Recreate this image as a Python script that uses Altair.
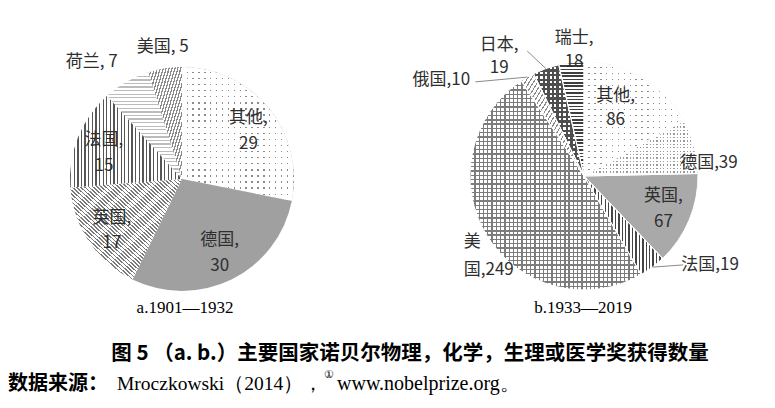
import math
import altair as alt
import pandas as pd

# ---------------- data ----------------
cats_a = ["其他", "德国", "英国", "法国", "荷兰", "美国"]
vals_a = [29, 30, 17, 15, 7, 5]
cats_b = ["其他", "德国", "英国", "法国", "美国", "俄国", "日本", "瑞士"]
vals_b = [86, 39, 67, 19, 249, 10, 19, 18]

caption_a = "a.1901—1932"
caption_b = "b.1933—2019"
title_line = "图 5 （a. b.）主要国家诺贝尔物理，化学，生理或医学奖获得数量"
src_head = "数据来源："
src_ref = "Mroczkowski（2014），"
src_note = "①"
src_url = "www.nobelprize.org。"

# ---------------- layout / style ----------------
W, H = 759, 392
PIE_A = dict(cx=174, cy=171, r=112)
PIE_B = dict(cx=576, cy=168, r=114)
FONT = "Noto Sans CJK SC"
SERIF = "Liberation Serif"
LABEL_COLOR = "#2e2e2e"

# label template, radius, dx, dy (block centre), lineHeight, align
labels_a = {
    "其他": ("{c},\n{v}", 82, 3, 4, 26, "center"),
    "德国": ("{c},\n{v}", 83, 1, 0, 26, "center"),
    "英国": ("{c},\n{v}", 87, 2, 3, 25, "center"),
    "法国": ("{c},\n{v}", 82, -2, 5, 26, "center"),
    "荷兰": ("{c}, {v}", 148, -17, 12, 20, "center"),
    "美国": ("{c}, {v}", 133, 1, -1, 20, "center"),
}
labels_b = {
    "其他": ("{c},\n{v}", 76, -7, -3, 24, "center"),
    "德国": ("{c},{v}", 118, 11, 18, 20, "center"),
    "英国": ("{c},\n{v}", 86, 0, 0, 26, "center"),
    "法国": ("{c},{v}", 150, 36, -31, 20, "center"),
    "美国": ("美\n国,{v}", 125, -14, 14, 28, "left"),
    "俄国": ("{c},{v}", 150, -68, 34, 20, "center"),
    "日本": ("{c},\n{v}", 140, -38, 12, 23, "center"),
    "瑞士": ("{c},\n{v}", 125, 4, -2, 24, "center"),
}
# leader lines: category -> (label radius, ox, oy)
leaders_b = {
    "俄国": (150, -34, 36),
    "日本": (140, -10, 7),
    "法国": (150, 9, -31),
}

TR = "rgba(255,255,255,0)"


def dots(base, spacing, dot):
    d = 1 - dot / spacing
    return [("solid", base), ("stripe", "v", spacing, d, "#ffffff", TR),
            ("stripe", "h", spacing, d, "#ffffff", TR)]


def grid(line, spacing, duty):
    return [("solid", "#ffffff"), ("stripe", "v", spacing, duty, line, TR),
            ("stripe", "h", spacing, duty, line, TR)]


patterns_a = {
    "其他": dots("#8c8c8c", 6.0, 1.4),
    "德国": [("solid", "#a0a0a0")],
    "英国": [("stripe", "b", 2.8, 0.4, "#7a7a7a", "#ffffff")],
    "法国": [("stripe", "v", 3.6, 0.36, "#555555", "#ffffff")],
    "荷兰": [("stripe", "h", 3.6, 0.35, "#bcbcbc", "#ffffff")],
    "美国": [("stripe", "f", 2.8, 0.45, "#8a8a8a", "#ffffff")],
}
patterns_b = {
    "其他": dots("#8c8c8c", 6.0, 1.4),
    "德国": dots("#9a9a9a", 3.4, 1.3),
    "英国": [("solid", "#a9a9a9")],
    "法国": [("stripe", "v", 3.4, 0.4, "#444444", "#ffffff")],
    "美国": grid("#7c7c7c", 4.3, 0.3),
    "俄国": [("stripe", "f", 3.6, 0.3, "#8a8a8a", "#ffffff")],
    "日本": grid("#4e4e4e", 4.6, 0.5),
    "瑞士": [("stripe", "h", 3.4, 0.45, "#3e3e3e", "#ffffff")],
}


# ---------------- helpers ----------------
def make_df(cats, vals, label_spec):
    total = float(sum(vals))
    rows, cum = [], 0.0
    for c, v in zip(cats, vals):
        s = cum / total
        cum += v
        e = cum / total
        rows.append(dict(cat=c, value=v, start=s, end=e, mid=(s + e) / 2,
                         label=label_spec[c][0].format(c=c, v=v)))
    return pd.DataFrame(rows)


def sector_bbox(r, f0, f1):
    a0, a1 = 2 * math.pi * f0, 2 * math.pi * f1
    pts = [(0.0, 0.0), (r * math.sin(a0), -r * math.cos(a0)),
           (r * math.sin(a1), -r * math.cos(a1))]
    for k in range(5):
        a = k * math.pi / 2
        if a0 < a < a1:
            pts.append((r * math.sin(a), -r * math.cos(a)))
    xs = [p[0] for p in pts]
    ys = [p[1] for p in pts]
    return max(max(xs) - min(xs), 1.0), max(max(ys) - min(ys), 1.0)


def stripe_grad(kind, spacing, duty, on, off, w, h):
    if kind == "v":
        coords, L = (0, 0, 1, 0), w / spacing
    elif kind == "h":
        coords, L = (0, 0, 0, 1), h / spacing
    elif kind == "f":  # "/" lines
        coords, L = (0, 0, 1, 1), 2 * w * h / (spacing * math.hypot(w, h))
    else:  # "\" lines
        coords, L = (1, 0, 0, 1), 2 * w * h / (spacing * math.hypot(w, h))
    n = max(1, int(round(L)))
    stops = []
    for i in range(n):
        a = round(i / n, 5)
        b = round((i + duty) / n, 5)
        c = round((i + 1) / n, 5)
        stops += [{"offset": a, "color": on}, {"offset": b, "color": on},
                  {"offset": b, "color": off}, {"offset": c, "color": off}]
    x1, y1, x2, y2 = coords
    return {"gradient": "linear", "x1": x1, "y1": y1, "x2": x2, "y2": y2,
            "stops": stops}


theta_scale = alt.Scale(domain=[0, 1])


def pie_layers(df, pie, patterns, label_spec, outline):
    layers = []
    cx, cy, r = pie["cx"], pie["cy"], pie["r"]
    base = alt.Chart(df)
    for _, row in df.iterrows():
        w, h = sector_bbox(r, row["start"], row["end"])
        for p in patterns[row["cat"]]:
            if p[0] == "solid":
                fill = p[1]
            else:
                fill = stripe_grad(p[1], p[2], p[3], p[4], p[5], w, h)
            layers.append(
                base.transform_filter(alt.datum.cat == row["cat"])
                .mark_arc(outerRadius=r)
                .encode(theta=alt.Theta("start:Q", scale=theta_scale, stack=False),
                        theta2="end:Q",
                        x=alt.value(cx), y=alt.value(cy),
                        fill=alt.value(fill))
            )
    if outline:
        layers.append(
            base.mark_arc(outerRadius=r, fillOpacity=0, stroke="#ffffff",
                          strokeWidth=1)
            .encode(theta=alt.Theta("start:Q", scale=theta_scale, stack=False),
                    theta2="end:Q", x=alt.value(cx), y=alt.value(cy))
        )
    for c, (tmpl, rad, dx, dy, lh, al) in label_spec.items():
        n_lines = tmpl.count("\n") + 1
        dy_eff = dy - (n_lines - 1) * lh / 2
        layers.append(
            base.transform_filter(alt.datum.cat == c)
            .mark_text(font=FONT, fontSize=17, color=LABEL_COLOR, lineBreak="\n",
                       lineHeight=lh, dx=dx, dy=dy_eff, align=al,
                       baseline="middle")
            .encode(theta=alt.Theta("mid:Q", scale=theta_scale, stack=False),
                    radius=alt.value(rad),
                    x=alt.value(cx), y=alt.value(cy),
                    text="label:N")
        )
    return layers


def leader_layers(df, pie, leaders):
    out = []
    cx, cy, r = pie["cx"], pie["cy"], pie["r"]
    for c, (rl, ox, oy) in leaders.items():
        out.append(
            alt.Chart(df).transform_filter(alt.datum.cat == c)
            .transform_calculate(
                ex=f"{cx} + {r}*sin(2*PI*datum.mid)",
                ey=f"{cy} - {r}*cos(2*PI*datum.mid)",
                lx=f"{cx} + {rl}*sin(2*PI*datum.mid) + ({ox})",
                ly=f"{cy} - {rl}*cos(2*PI*datum.mid) + ({oy})",
            )
            .mark_rule(color="#8a8a8a", strokeWidth=1)
            .encode(x=alt.X("ex:Q", scale=None, axis=None),
                    y=alt.Y("ey:Q", scale=None, axis=None),
                    x2="lx:Q", y2="ly:Q")
        )
    return out


def text_layer(t, x, y, font, size, weight="normal", align="center", color="#000000"):
    return (alt.Chart(pd.DataFrame({"t": [t]}))
            .mark_text(font=font, fontSize=size, fontWeight=weight, align=align,
                       baseline="middle", color=color)
            .encode(text="t:N", x=alt.value(x), y=alt.value(y)))


df_a = make_df(cats_a, vals_a, labels_a)
df_b = make_df(cats_b, vals_b, labels_b)

layers = []
layers += pie_layers(df_a, PIE_A, patterns_a, labels_a, outline=False)
layers += pie_layers(df_b, PIE_B, patterns_b, labels_b, outline=True)
layers += leader_layers(df_b, PIE_B, leaders_b)
layers += [
    text_layer(caption_a, 177, 300, SERIF, 17),
    text_layer(caption_b, 575, 300, SERIF, 17),
    text_layer(title_line, 402, 346, FONT, 20.5, weight="bold"),
    text_layer(src_head, 0, 376, FONT, 20, weight="bold", align="left"),
    text_layer(src_ref, 109, 376, SERIF, 19.5, align="left"),
    text_layer(src_note, 316, 367, SERIF, 11, align="left"),
    text_layer(src_url, 329, 376, SERIF, 20, align="left"),
]

chart = (alt.layer(*layers)
         .properties(width=W, height=H, padding=0,
                     autosize=alt.AutoSizeParams(type="none"))
         .configure_view(strokeWidth=0))

chart.save("out.html", embed_options={"renderer": "svg", "actions": False})
